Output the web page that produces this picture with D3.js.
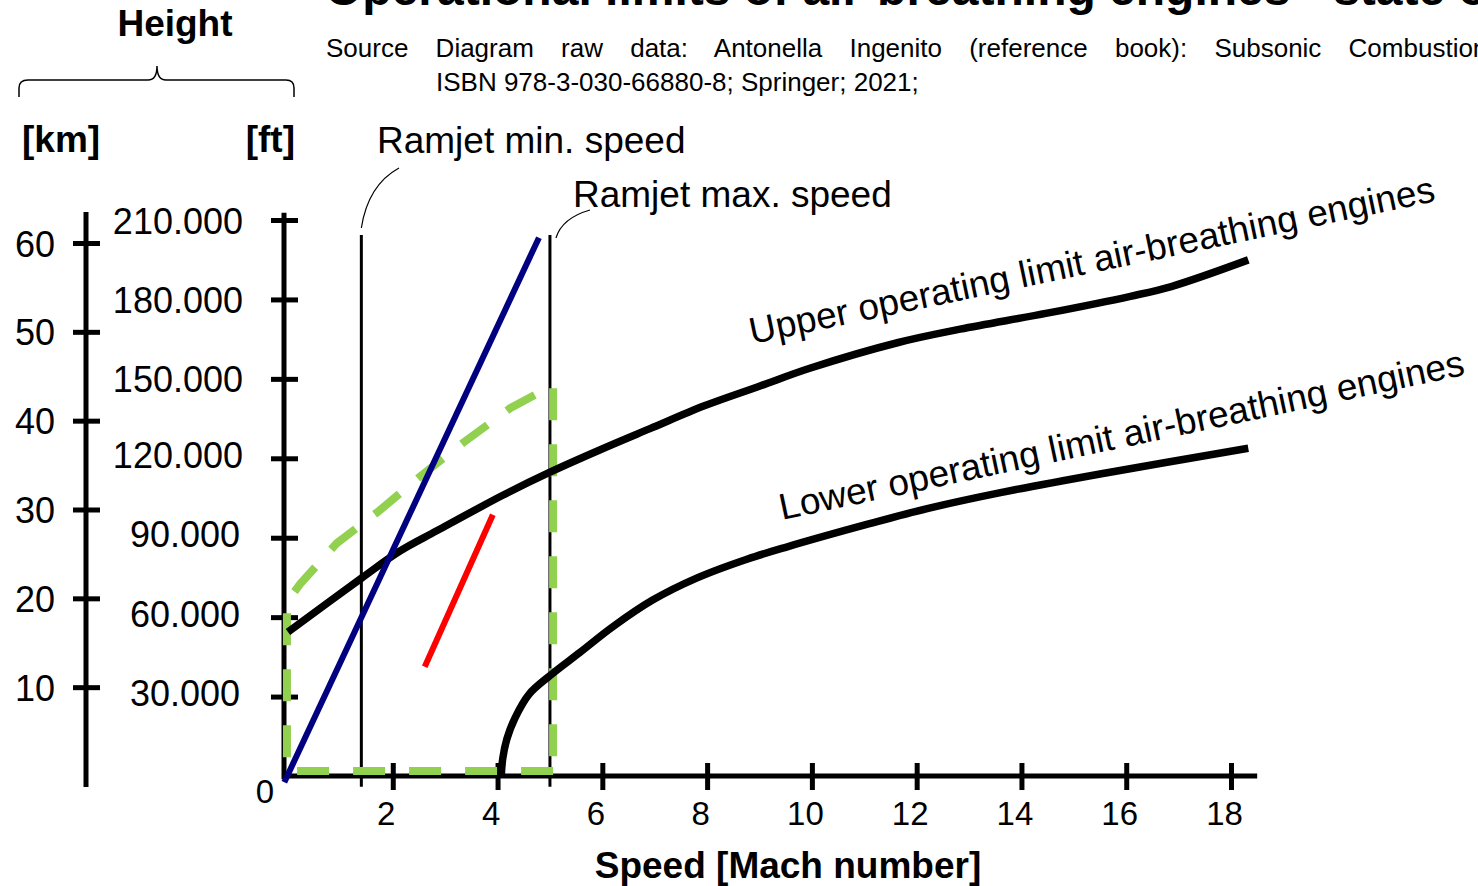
<!DOCTYPE html>
<html>
<head>
<meta charset="utf-8">
<script src="https://cdn.jsdelivr.net/npm/d3@7"></script>
<style>
  body { margin: 0; background: #fff; overflow: hidden; }
  text { font-family: "Liberation Sans", Arial, sans-serif; fill: #000; }
</style>
</head>
<body>
<script>
// values: speed in Mach, height in km
var upperMach = [0, 1.41, 2.13, 2.84, 4.1, 5.0, 5.95, 6.91, 7.96, 9.01, 9.96, 11.65, 12.83, 14.49, 16.08, 16.86, 18.33];
var upperKm = [16.2, 22.3, 25.3, 27.6, 31.6, 34.2, 36.7, 39.1, 41.7, 43.9, 45.9, 48.8, 50.3, 52.1, 54.0, 55.1, 58.1];

var lowerMach = [4.07, 4.1, 4.18, 4.33, 4.6, 5.0, 5.57, 6.2, 6.96, 7.81, 8.76, 9.53, 11.1, 12.2, 13.6, 15.5, 18.33];
var lowerKm = [0, 2.0, 4.2, 6.5, 9.2, 11.3, 13.9, 16.8, 19.8, 22.3, 24.4, 25.8, 28.4, 30.1, 31.9, 34.0, 36.9];

// green dashed ramjet envelope
var envMach = [5.06, -0.02, -0.02, 0.23, 0.93, 1.75, 2.52, 3.34, 4.24, 5.0, 5.06, 5.06];
var envKm = [0.56, 0.56, 19.6, 21.6, 26.2, 29.9, 33.7, 37.5, 41.4, 43.8, 44.0, 0.56];

var blueMach = [-0.07, 4.79];
var blueKm = [-0.7, 60.6];
var redMach = [2.61, 3.91];
var redKm = [12.3, 29.4];

// ramjet min / max speed
var limitMach = [1.4, 5.0];
var limitKm = [-1.2, 60.9];

var machTicks = [2, 4, 6, 8, 10, 12, 14, 16, 18];
var kmTicks = [10, 20, 30, 40, 50, 60];
var ftTicks = [30000, 60000, 90000, 120000, 150000, 180000, 210000];

var W = 1478, H = 886;

var svg = d3.select("body").append("svg")
  .attr("width", W)
  .attr("height", H);

var x = d3.scaleLinear().domain([0, 18]).range([288, 1231]);
var yKm = d3.scaleLinear().domain([0, 60]).range([776, 243]);
var yFt = d3.scaleLinear().domain([0, 210000]).range([776, 220]);

var ftFormat = d3.formatLocale({ decimal: ",", thousands: ".", grouping: [3], currency: ["", ""] }).format(",");

function zip(a, b) {
  return a.map(function(v, i) { return [v, b[i]]; });
}

var line = d3.line()
  .x(function(d) { return x(d[0]); })
  .y(function(d) { return yKm(d[1]); });

// title (cut at the top edge) and source
svg.append("text")
  .attr("x", 325).attr("y", 5)
  .attr("font-size", 48).attr("font-weight", "bold")
  .text("Operational limits of air-breathing engines - state of the art");

svg.append("text")
  .attr("x", 326).attr("y", 57)
  .attr("font-size", 26)
  .attr("word-spacing", 20)
  .text("Source Diagram raw data: Antonella Ingenito (reference book): Subsonic Combustion Ramjet Design");
svg.append("text")
  .attr("x", 436).attr("y", 91)
  .attr("font-size", 26)
  .text("ISBN 978-3-030-66880-8; Springer; 2021;");

// height header with brace
svg.append("text")
  .attr("x", 175).attr("y", 36)
  .attr("text-anchor", "middle")
  .attr("font-size", 37).attr("font-weight", "bold")
  .text("Height");
svg.append("path")
  .attr("d", "M19,97 L19,88 Q19,80 28,80 L148,80 Q157,80 157,66 Q157,80 166,80 L286,80 Q294,80 294,88 L294,97")
  .attr("fill", "none").attr("stroke", "#000").attr("stroke-width", 1.5);
svg.append("text")
  .attr("x", 22).attr("y", 152)
  .attr("font-size", 37).attr("font-weight", "bold")
  .text("[km]");
svg.append("text")
  .attr("x", 295).attr("y", 152)
  .attr("text-anchor", "end")
  .attr("font-size", 37).attr("font-weight", "bold")
  .text("[ft]");

// km axis
var kmAxis = svg.append("g")
  .attr("transform", "translate(86,0)")
  .call(d3.axisLeft(yKm).tickValues(kmTicks).tickSize(13).tickSizeOuter(0));
kmAxis.select(".domain").remove();
kmAxis.append("line")
  .attr("y1", yKm(63.5)).attr("y2", yKm(-1.25))
  .attr("stroke", "#000").attr("stroke-width", 5);
kmAxis.selectAll(".tick line").attr("x1", 14).attr("x2", -13).attr("stroke-width", 5);
kmAxis.selectAll(".tick text")
  .attr("x", -31).attr("dy", 13)
  .attr("font-size", 36).attr("fill", "#000");

// ft axis
var ftAxis = svg.append("g")
  .attr("transform", "translate(284,0)")
  .call(d3.axisLeft(yFt).tickValues(ftTicks).tickSize(13).tickSizeOuter(0).tickFormat(ftFormat));
ftAxis.select(".domain").remove();
ftAxis.append("line")
  .attr("y1", yFt(212700)).attr("y2", yFt(-1200))
  .attr("stroke", "#000").attr("stroke-width", 5);
ftAxis.selectAll(".tick line").attr("x1", 14).attr("x2", -13).attr("stroke-width", 5);
ftAxis.selectAll(".tick text")
  .attr("x", function(d) { return d < 100000 ? -44 : -41; })
  .attr("dy", function(d) { return d < 150000 ? 9 : 13; })
  .attr("font-size", 36).attr("fill", "#000");

// speed axis
var xAxis = svg.append("g")
  .attr("transform", "translate(0,776)")
  .call(d3.axisBottom(x).tickValues(machTicks).tickSize(14).tickSizeOuter(0));
xAxis.select(".domain").remove();
xAxis.append("line")
  .attr("x1", x(-0.1)).attr("x2", x(18.5))
  .attr("stroke", "#000").attr("stroke-width", 5);
xAxis.selectAll(".tick line").attr("y1", -13).attr("y2", 14).attr("stroke-width", 5);
xAxis.selectAll(".tick text")
  .attr("y", 49).attr("dy", null).attr("dx", -7)
  .attr("font-size", 33).attr("fill", "#000");

svg.append("text")
  .attr("x", 265).attr("y", 803)
  .attr("text-anchor", "middle")
  .attr("font-size", 33)
  .text("0");

svg.append("text")
  .attr("x", 788).attr("y", 878)
  .attr("text-anchor", "middle")
  .attr("font-size", 37).attr("font-weight", "bold")
  .text("Speed [Mach number]");

// ramjet min / max speed lines
svg.selectAll(".limit")
  .data(limitMach)
  .enter()
  .append("line")
  .attr("class", "limit")
  .attr("x1", function(d) { return x(d); })
  .attr("x2", function(d) { return x(d); })
  .attr("y1", yKm(limitKm[0]))
  .attr("y2", yKm(limitKm[1]))
  .attr("stroke", "#000")
  .attr("stroke-width", 3);

svg.append("text")
  .attr("x", 377).attr("y", 153)
  .attr("font-size", 37)
  .text("Ramjet min. speed");
svg.append("text")
  .attr("x", 573).attr("y", 207)
  .attr("font-size", 37)
  .text("Ramjet max. speed");

// leader lines
svg.append("path")
  .attr("d", "M" + x(limitMach[0]) + "," + (yKm(limitKm[1]) - 7) + " Q368,185 399,168")
  .attr("fill", "none").attr("stroke", "#000").attr("stroke-width", 1.2);
svg.append("path")
  .attr("d", "M" + (x(limitMach[1]) + 6) + "," + (yKm(limitKm[1]) + 3) + " Q562,218 590,210")
  .attr("fill", "none").attr("stroke", "#000").attr("stroke-width", 1.2);

// green dashed envelope
svg.append("path")
  .datum(zip(envMach, envKm))
  .attr("d", line)
  .attr("fill", "none")
  .attr("stroke", "#92d050")
  .attr("stroke-width", 8)
  .attr("stroke-dasharray", "32,24");

// operating limits
var curve = d3.line()
  .x(function(d) { return x(d[0]); })
  .y(function(d) { return yKm(d[1]); })
  .curve(d3.curveCatmullRom.alpha(0.5));

svg.append("path")
  .datum(zip(upperMach, upperKm))
  .attr("d", curve)
  .attr("fill", "none").attr("stroke", "#000").attr("stroke-width", 7.5);
svg.append("path")
  .datum(zip(lowerMach, lowerKm))
  .attr("d", curve)
  .attr("fill", "none").attr("stroke", "#000").attr("stroke-width", 7.5);

svg.append("path")
  .datum(zip(redMach, redKm))
  .attr("d", line)
  .attr("fill", "none").attr("stroke", "#ff0000").attr("stroke-width", 6);

svg.append("path")
  .datum(zip(blueMach, blueKm))
  .attr("d", line)
  .attr("fill", "none").attr("stroke", "#000080").attr("stroke-width", 6);

// curve labels
svg.append("text")
  .attr("transform", "translate(752,344) rotate(-11.8)")
  .attr("font-size", 37)
  .text("Upper operating limit air-breathing engines");
svg.append("text")
  .attr("transform", "translate(782,520) rotate(-12)")
  .attr("font-size", 37)
  .text("Lower operating limit air-breathing engines");
</script>
</body>
</html>
